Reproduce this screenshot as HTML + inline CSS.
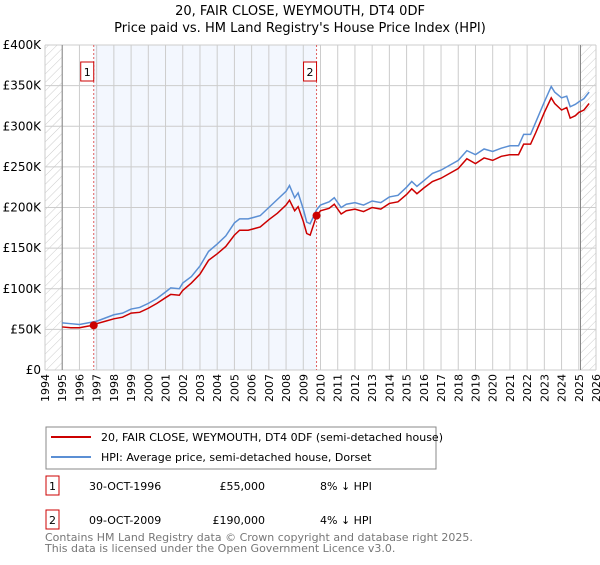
<!DOCTYPE html>
<html><head><meta charset="utf-8"><style>
body{margin:0;background:#fff;font-family:"Liberation Sans","DejaVu Sans",sans-serif;}
svg text{font-family:"DejaVu Sans","Liberation Sans",sans-serif;}
</style></head><body>
<svg id="c" width="600" height="560" xmlns="http://www.w3.org/2000/svg">
<defs><pattern id="hatch" width="6" height="6" patternUnits="userSpaceOnUse" patternTransform="rotate(45)"><line x1="0" y1="0" x2="0" y2="6" stroke="#ccc" stroke-width="1"/></pattern></defs>
<text x="300" y="15" text-anchor="middle" font-size="13">20, FAIR CLOSE, WEYMOUTH, DT4 0DF</text>
<text x="300" y="32" text-anchor="middle" font-size="13">Price paid vs. HM Land Registry's House Price Index (HPI)</text>
<g id="plot"></g>
<g>
<rect x="46" y="427" width="390" height="42" fill="#fff" stroke="#888"/>
<line x1="51" y1="437" x2="91" y2="437" stroke="#cc0000" stroke-width="2"/>
<text x="101" y="441" font-size="11">20, FAIR CLOSE, WEYMOUTH, DT4 0DF (semi-detached house)</text>
<line x1="51" y1="457" x2="91" y2="457" stroke="#5b8fd4" stroke-width="2"/>
<text x="101" y="461" font-size="11">HPI: Average price, semi-detached house, Dorset</text>
</g>
<g font-size="11">
<rect x="46" y="476" width="13" height="19" fill="#fff" stroke="#cc0000"/><text x="52.5" y="490" text-anchor="middle">1</text>
<text x="89" y="490">30-OCT-1996</text><text x="265" y="490" text-anchor="end">£55,000</text><text x="320" y="490">8% ↓ HPI</text>
<rect x="46" y="510" width="13" height="19" fill="#fff" stroke="#cc0000"/><text x="52.5" y="524" text-anchor="middle">2</text>
<text x="89" y="524">09-OCT-2009</text><text x="265" y="524" text-anchor="end">£190,000</text><text x="320" y="524">4% ↓ HPI</text>
</g>
<text x="45" y="541" font-size="11" fill="#777">Contains HM Land Registry data © Crown copyright and database right 2025.</text>
<text x="45" y="552" font-size="11" fill="#777">This data is licensed under the Open Government Licence v3.0.</text>
</svg>
<script>
const hpiYears=[1995,1995.5,1996,1996.5,1997,1997.5,1998,1998.5,1999,1999.5,2000,2000.5,2001,2001.3,2001.8,2002,2002.5,2003,2003.5,2004,2004.5,2005,2005.3,2005.8,2006.5,2007,2007.5,2008,2008.2,2008.5,2008.7,2009,2009.2,2009.4,2009.77,2010,2010.5,2010.8,2011.2,2011.5,2012,2012.5,2013,2013.5,2014,2014.5,2015,2015.3,2015.6,2016,2016.5,2017,2017.5,2018,2018.5,2019,2019.5,2020,2020.5,2021,2021.5,2021.8,2022.2,2022.5,2023,2023.4,2023.6,2024,2024.3,2024.5,2024.8,2025,2025.3,2025.6];
const hpiValues=[58,57,56,58,60,64,68,70,75,77,82,88,96,101,100,107,115,128,146,155,165,181,186,186,190,200,210,220,227,212,218,198,182,180,197,203,207,212,200,204,206,203,208,206,213,215,225,232,226,233,242,246,252,258,270,265,272,269,273,276,276,290,290,305,330,349,342,335,337,324,327,330,334,342];
const priceYears=[1995,1995.5,1996,1996.5,1996.83,1997,1997.5,1998,1998.5,1999,1999.5,2000,2000.5,2001,2001.3,2001.8,2002,2002.5,2003,2003.5,2004,2004.5,2005,2005.3,2005.8,2006.5,2007,2007.5,2008,2008.2,2008.5,2008.7,2009,2009.2,2009.4,2009.77,2010,2010.5,2010.8,2011.2,2011.5,2012,2012.5,2013,2013.5,2014,2014.5,2015,2015.3,2015.6,2016,2016.5,2017,2017.5,2018,2018.5,2019,2019.5,2020,2020.5,2021,2021.5,2021.8,2022.2,2022.5,2023,2023.4,2023.6,2024,2024.3,2024.5,2024.8,2025,2025.3,2025.6];
const priceValues=[53,52,52,54,55,57,60,63,65,70,71,76,82,89,93,92,98,107,118,135,143,152,166,172,172,176,185,193,203,209,196,201,183,168,166,190,196,199,204,192,196,198,195,200,198,205,207,216,223,217,224,232,236,242,248,260,254,261,258,263,265,265,278,278,292,317,335,328,320,323,310,313,317,320,328];
const saleYears=[1996.83,2009.77];
const saleValues=[55,190];
const saleLabels=["1","2"];
const yTicks=[0,50,100,150,200,250,300,350,400];
const yTickLabels=["£0","£50K","£100K","£150K","£200K","£250K","£300K","£350K","£400K"];
const xTicks=[1994,1995,1996,1997,1998,1999,2000,2001,2002,2003,2004,2005,2006,2007,2008,2009,2010,2011,2012,2013,2014,2015,2016,2017,2018,2019,2020,2021,2022,2023,2024,2025,2026];

const NS="http://www.w3.org/2000/svg";
const L=45,R=596,T=45,B=370;
const x=y=>L+(y-1994)/(2026-1994)*(R-L);
const yv=v=>B-v/400*(B-T);
const g=document.getElementById('plot');
function el(t,a,p){const e=document.createElementNS(NS,t);for(const k in a)e.setAttribute(k,a[k]);(p||g).appendChild(e);return e;}
const hs=el('rect',{x:L,y:T,width:x(1995)-L,height:B-T,fill:'url(#hatch)'});


const he=el('rect',{x:x(2025.1),y:T,width:R-x(2025.1),height:B-T,fill:'url(#hatch)'});


const sh=el('rect',{x:x(saleYears[0]),y:T,width:x(saleYears[1])-x(saleYears[0]),height:B-T,fill:'#eef3fd',opacity:0.7});


xTicks.forEach(t=>{
 const ln=el('line',{x1:x(t),x2:x(t),y1:T,y2:B,stroke:'#ccc'});
 
 
 const tx=el('text',{x:0,y:0,'font-size':11,'text-anchor':'end',transform:`translate(${x(t)+4},${B+4}) rotate(-90)`});
 tx.textContent=t;
 
 
});
yTicks.forEach((t,i)=>{
 const ln=el('line',{x1:L,x2:R,y1:yv(t),y2:yv(t),stroke:'#ccc'});
 
 
 const tx=el('text',{x:L-4,y:yv(t)+4,'font-size':12,'text-anchor':'end'});
 tx.textContent=yTickLabels[i];
 
 
});
const bx1=el('line',{x1:x(1995),x2:x(1995),y1:T,y2:B,stroke:'#888'});


const bx2=el('line',{x1:x(2025.1),x2:x(2025.1),y1:T,y2:B,stroke:'#888'});


saleYears.forEach((s,i)=>{
 const ln=el('line',{x1:x(s),x2:x(s),y1:T,y2:B,stroke:'#e06060','stroke-dasharray':'2,2'});
 
 
 const bxr=el('rect',{x:x(s)-13,y:62,width:13,height:19,fill:'#fff',stroke:'#cc0000'});
 
 
 const tx=el('text',{x:x(s)-6.5,y:76,'font-size':11,'text-anchor':'middle'});
 tx.textContent=saleLabels[i];
 
 
});
const hp=el('polyline',{points:hpiYears.map((t,i)=>x(t)+','+yv(hpiValues[i])).join(' '),fill:'none',stroke:'#5b8fd4','stroke-width':1.5});


const pp=el('polyline',{points:priceYears.map((t,i)=>x(t)+','+yv(priceValues[i])).join(' '),fill:'none',stroke:'#cc0000','stroke-width':1.5});


saleYears.forEach((s,i)=>{
 const c=el('circle',{cx:x(s),cy:yv(saleValues[i]),r:4,fill:'#cc0000'});
 
 
});
</script>
</body></html>
